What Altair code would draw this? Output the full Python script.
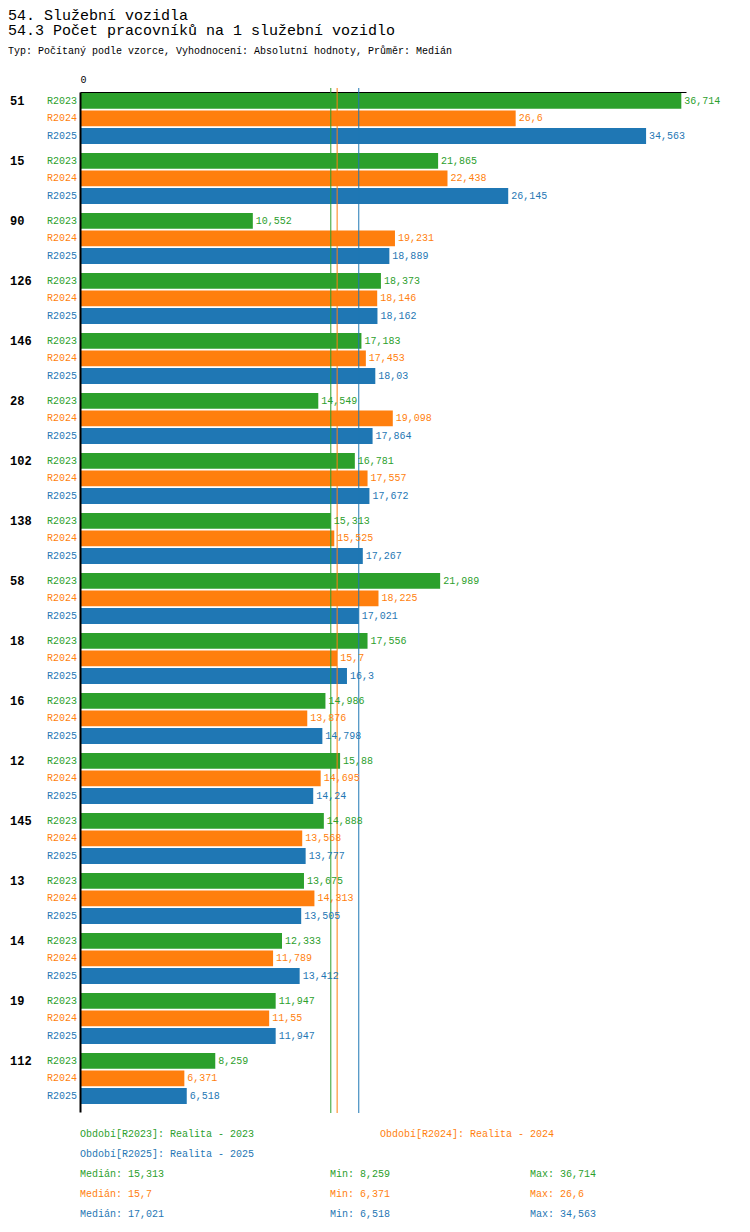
import altair as alt
import pandas as pd
import statistics

# ---- data ----
groups = ["51", "15", "90", "126", "146", "28", "102", "138", "58",
          "18", "16", "12", "145", "13", "14", "19", "112"]
series = ["R2023", "R2024", "R2025"]
colors = ["#2ca02c", "#ff7f0e", "#1f77b4"]
r2023 = [36.714, 21.865, 10.552, 18.373, 17.183, 14.549, 16.781, 15.313, 21.989,
         17.556, 14.986, 15.88, 14.888, 13.675, 12.333, 11.947, 8.259]
r2024 = [26.6, 22.438, 19.231, 18.146, 17.453, 19.098, 17.557, 15.525, 18.225,
         15.7, 13.876, 14.695, 13.568, 14.313, 11.789, 11.55, 6.371]
r2025 = [34.563, 26.145, 18.889, 18.162, 18.03, 17.864, 17.672, 17.267, 17.021,
         16.3, 14.798, 14.24, 13.777, 13.505, 13.412, 11.947, 6.518]
period_names = ["Období[R2023]: Realita - 2023",
                "Období[R2024]: Realita - 2024",
                "Období[R2025]: Realita - 2025"]
title1 = "54. Služební vozidla"
title2 = "54.3 Počet pracovníků na 1 služební vozidlo"
subtitle = "Typ: Počítaný podle vzorce, Vyhodnocení: Absolutní hodnoty, Průměr: Medián"

F = "Liberation Mono"


def fmt(v):
    s = ("%.3f" % v).rstrip("0").rstrip(".")
    return s.replace(".", ",")


rows = []
for i, g in enumerate(groups):
    for s, vals in zip(series, [r2023, r2024, r2025]):
        rows.append(dict(group=g, series=s, value=vals[i], label=fmt(vals[i])))
df = pd.DataFrame(rows)

W, H = 606, 1020

base = alt.Chart(df)
y_enc = alt.Y("group:N", sort=groups,
              scale=alt.Scale(paddingInner=0.15, paddingOuter=0.075, align=0.1),
              axis=alt.Axis(labels=False, ticks=False, title=None, grid=False,
                            domainColor="black", domainWidth=2, zindex=1))
yoff = alt.YOffset("series:N", sort=series,
                   scale=alt.Scale(paddingInner=0.1, paddingOuter=0))
x_enc = alt.X("value:Q", scale=alt.Scale(domain=[0, 37], nice=False),
              axis=alt.Axis(orient="top", values=[0], ticks=False, labelPadding=8,
                            title=None, grid=False, domainColor="black",
                            labelFont=F, labelFontSize=10, labelColor="black"))
color = alt.Color("series:N", scale=alt.Scale(domain=series, range=colors), legend=None)

bars = base.mark_bar().encode(x=x_enc, y=y_enc, yOffset=yoff, color=color)
medians = base.mark_rule(strokeWidth=1).encode(
    x="median(value):Q", color=color, y=alt.value(-4), y2=alt.value(H + 1))
values = base.mark_text(align="left", baseline="middle", dx=3, font=F, fontSize=10).encode(
    x="value:Q", y=y_enc, yOffset=yoff, text="label:N", color=color)
series_lbl = base.mark_text(align="right", baseline="middle", font=F, fontSize=10).encode(
    x=alt.value(-3), y=y_enc, yOffset=yoff, text="series:N", color=color)
group_lbl = base.transform_filter(alt.datum.series == "R2023").mark_text(
    align="left", baseline="middle", font=F, fontSize=12, fontWeight="bold", color="black"
).encode(x=alt.value(-70), y=y_enc, yOffset=yoff, text="group:N")


def txt(t, col, x, y, size=10, baseline="middle", weight="normal"):
    return alt.Chart(pd.DataFrame({"t": [t]})).mark_text(
        align="left", baseline=baseline, font=F, fontSize=size, color=col,
        fontWeight=weight
    ).encode(text="t:N", x=alt.value(x), y=alt.value(y))


all_vals = [r2023, r2024, r2025]
extra = [
    txt(title1, "black", -72, -84, size=15, baseline="top"),
    txt(title2, "black", -72, -62, size=15),
    txt(subtitle, "black", -72, -41, size=10),
    txt(period_names[0], colors[0], 0, H + 22),
    txt(period_names[1], colors[1], 300, H + 22),
    txt(period_names[2], colors[2], 0, H + 42),
]
for k, vals in enumerate(all_vals):
    yy = H + 62 + 20 * k
    extra.append(txt("Medián: " + fmt(statistics.median(vals)), colors[k], 0, yy))
    extra.append(txt("Min: " + fmt(min(vals)), colors[k], 250, yy))
    extra.append(txt("Max: " + fmt(max(vals)), colors[k], 450, yy))

chart = alt.layer(bars, medians, values, series_lbl, group_lbl, *extra).properties(
    width=W, height=H, padding=0
).configure_view(stroke=None)

chart.save("out.html", embed_options={"renderer": "svg", "actions": False})
